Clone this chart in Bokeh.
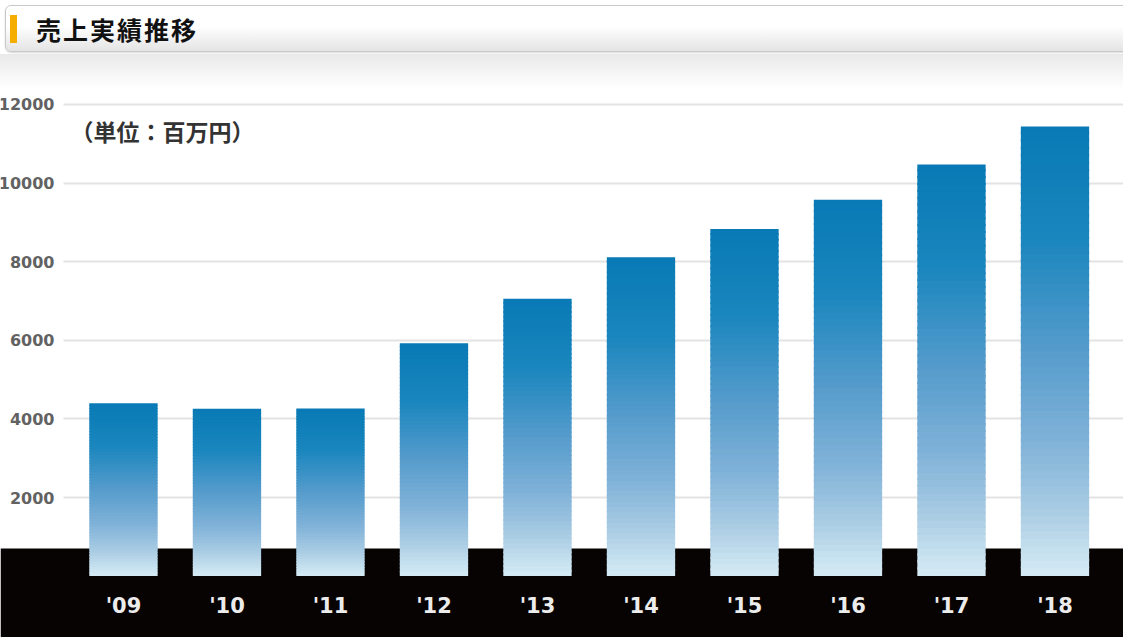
import numpy as np
from bokeh.plotting import figure
from bokeh.models import Div, Label, FixedTicker, BoxAnnotation, ColumnDataSource
from bokeh.layouts import column
from bokeh.embed import file_html
from bokeh.resources import INLINE

# ---- data ----
title_text = "売上実績推移"
unit_text = "（単位：百万円）"
years = ["'09", "'10", "'11", "'12", "'13", "'14", "'15", "'16", "'17", "'18"]
sales = [4400, 4260, 4265, 5925, 7055, 8115, 8835, 9575, 10475, 11440]
y_ticks = [2000, 4000, 6000, 8000, 10000, 12000]

# ---- gradient colours (top -> bottom) ----
stops = [(0.0, (8, 122, 181)), (0.25, (26, 134, 190)), (0.5, (86, 156, 204)),
         (0.7, (128, 178, 216)), (0.85, (168, 203, 227)), (1.0, (214, 236, 245))]

def grad(t):
    for (t0, c0), (t1, c1) in zip(stops[:-1], stops[1:]):
        if t <= t1:
            f = (t - t0) / (t1 - t0)
            c = [int(round(a + (b - a) * f)) for a, b in zip(c0, c1)]
            return "#%02x%02x%02x" % tuple(c)
    return "#%02x%02x%02x" % stops[-1][1]

N = 60
xs, bots, tops, cols = [], [], [], []
for i, v in enumerate(sales):
    for j in range(N):
        b = v * j / N
        t = v * (j + 1) / N
        xs.append(i)
        bots.append(b)
        tops.append(t + v / N * 0.3 if j < N - 1 else t)
        cols.append(grad(1 - (j + 0.5) / N))
src = ColumnDataSource(dict(x=xs, bottom=bots, top=tops, color=cols))

W = 1123
HH = 90
H = 637 - HH

header = Div(
    width=W, height=HH, margin=0,
    styles={"overflow": "hidden"},
    text=(
        '<div style="position:relative;width:%dpx;height:%dpx;overflow:hidden;">' % (W, HH) +
        '<div style="position:absolute;left:5px;top:5px;width:%dpx;height:47px;' % (W + 20) +
        'border:1px solid #c9c9c9;border-radius:6px;box-sizing:border-box;'
        'background:linear-gradient(to bottom,#ffffff 0%,#ffffff 45%,#e4e4e4 100%);'
        'box-shadow:0 1px 2px rgba(0,0,0,0.15);"></div>'
        '<div style="position:absolute;left:10px;top:15px;width:7px;height:28px;background:#f5ae00;"></div>'
        '<div style="position:absolute;left:36px;top:11px;height:36px;line-height:36px;'
        'font-family:\'Noto Sans CJK JP\';font-weight:bold;font-size:25px;letter-spacing:2px;color:#111;">'
        + title_text + '</div>'
        '<div style="position:absolute;left:0;top:54px;width:%dpx;height:36px;' % W +
        'background:linear-gradient(to bottom,#e9e9e9 0%,#f7f7f7 60%,#ffffff 100%);"></div>'
        '</div>'
    ),
)

p = figure(width=W, height=H, output_backend="svg", toolbar_location=None,
           x_range=(-1.188, 9.662), y_range=(-1562, 12356),
           min_border=0, outline_line_color=None, background_fill_color="white",
           border_fill_color="white")

p.vbar(x="x", width=0.66, bottom="bottom", top="top", source=src,
       fill_color="color", line_color=None)

band = BoxAnnotation(top=702, fill_color="#070303", fill_alpha=1.0, line_color=None,
                     level="underlay")
p.add_layout(band)

# y axis
ya = p.yaxis[0]
ya.fixed_location = -0.58
ya.ticker = FixedTicker(ticks=y_ticks)
ya.axis_line_color = None
ya.major_tick_line_color = None
ya.minor_tick_line_color = None
ya.major_label_standoff = 3
ya.major_label_text_font = "DejaVu Sans"
ya.major_label_text_font_style = "bold"
ya.major_label_text_font_size = "16px"
ya.major_label_text_color = "#626262"

# x axis
xa = p.xaxis[0]
xa.fixed_location = -163
xa.ticker = FixedTicker(ticks=list(range(len(years))))
xa.major_label_overrides = {i: y for i, y in enumerate(years)}
xa.axis_line_color = None
xa.major_tick_line_color = None
xa.minor_tick_line_color = None
xa.major_label_standoff = 5
xa.major_label_text_font = "DejaVu Sans"
xa.major_label_text_font_style = "bold"
xa.major_label_text_font_size = "21px"
xa.major_label_text_color = "#ececec"

p.xgrid.visible = False
p.ygrid.ticker = FixedTicker(ticks=y_ticks)
p.ygrid.grid_line_color = "#e3e3e3"
p.ygrid.grid_line_width = 2
p.ygrid.cross_bounds = (-0.58, 9.662)

p.add_layout(Label(x=70, y=H - 40, x_units="screen", y_units="screen", text=unit_text,
                   text_font="Noto Sans CJK JP", text_font_style="bold",
                   text_font_size="23px", text_color="#333333", text_baseline="middle"))

layout = column(header, p, spacing=0)
open("out.html", "w").write(file_html(layout, INLINE))
